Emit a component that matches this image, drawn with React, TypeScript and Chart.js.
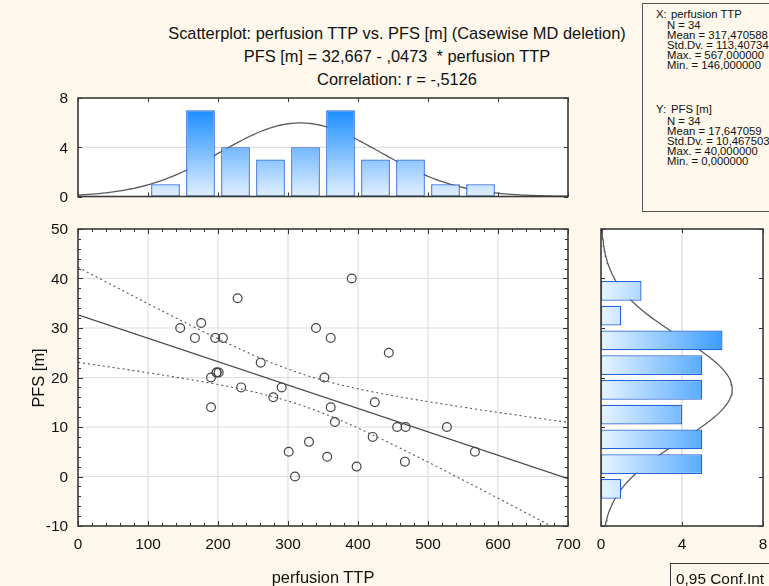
import React, { useEffect, useRef } from 'react';
import { Chart, registerables } from 'chart.js';
Chart.register(...registerables);

// ---------- data ----------
const perfusionTTP = [146, 176, 167, 196, 207, 228, 391, 340, 361, 261, 190, 198, 198, 201, 233, 291, 279, 352, 361, 190, 444, 424, 301, 330, 310, 367, 456, 468, 527, 421, 567, 356, 398, 467];
const pfsMonths = [30, 31, 28, 28, 28, 36, 40, 30, 28, 23, 20, 21, 21, 21, 18, 18, 16, 20, 14, 14, 25, 15, 5, 7, 0, 11, 10, 10, 10, 8, 5, 4, 2, 3];

const xBinCenters = [125, 175, 225, 275, 325, 375, 425, 475, 525, 575];
const xBinCounts = [1, 7, 4, 3, 4, 7, 3, 3, 1, 1];
const yBinCenters = [37.5, 32.5, 27.5, 22.5, 17.5, 12.5, 7.5, 2.5, -2.5];
const yBinCounts = [2, 1, 6, 5, 5, 4, 5, 5, 1];

const scatterXTicks = [0, 100, 200, 300, 400, 500, 600, 700];
const scatterYTicks = [-10, 0, 10, 20, 30, 40, 50];
const countTicks = [0, 4, 8];

const N = 34;
const meanX = 317.470588;
const sdX = 113.40734;
const meanY = 17.647059;
const sdY = 10.467503;
const intercept = 32.667;
const slope = -0.0473;
const r = -0.5126;
const tCrit = 2.0369; // t(0.975, 32)
const binWidthX = 50;
const binWidthY = 5;

const titleLines = [
  'Scatterplot: perfusion TTP vs. PFS [m] (Casewise MD deletion)',
  'PFS [m] = 32,667 - ,0473  * perfusion TTP',
  'Correlation: r = -,5126',
];
const statsX = ['N = 34', 'Mean = 317,470588', 'Std.Dv. = 113,40734', 'Max. = 567,000000', 'Min. = 146,000000'];
const statsY = ['N = 34', 'Mean = 17,647059', 'Std.Dv. = 10,467503', 'Max. = 40,000000', 'Min. = 0,000000'];

// ---------- derived curves ----------
const normal = (v: number, m: number, sd: number, w: number) =>
  (N * w) / (sd * Math.sqrt(2 * Math.PI)) * Math.exp(-0.5 * ((v - m) / sd) ** 2);

const sRes = sdY * Math.sqrt(((1 - r * r) * (N - 1)) / (N - 2));
const sxx = (N - 1) * sdX * sdX;
const ciHalf = (x: number) => tCrit * sRes * Math.sqrt(1 / N + ((x - meanX) ** 2) / sxx);

const xGrid: number[] = [];
for (let x = 0; x <= 700; x += 5) xGrid.push(x);
const yGrid: number[] = [];
for (let y = -10; y <= 50; y += 0.5) yGrid.push(y);

const FONT = "'Liberation Sans', Arial, sans-serif";
const BG = '#fdf8eb';
const TICK_FONT = `15.4px ${FONT}`;

// ---------- plugin: plot background, grid, frame, ticks, labels ----------
const decor = {
  id: 'decor',
  beforeDraw(chart: any) {
    const { ctx, chartArea: a } = chart;
    ctx.save();
    ctx.fillStyle = '#ffffff';
    ctx.fillRect(a.left, a.top, a.width, a.height);
    ctx.restore();
  },
  beforeDatasetsDraw(chart: any, _args: any, o: any) {
    const { ctx, chartArea: a } = chart;
    const xs = chart.scales.x;
    const ys = chart.scales.y;
    ctx.save();
    ctx.strokeStyle = o.gridColor || '#dedede';
    ctx.lineWidth = 1.2;
    (o.gridX || []).forEach((v: number) => {
      const p = xs.getPixelForValue(v);
      ctx.beginPath(); ctx.moveTo(p, a.top); ctx.lineTo(p, a.bottom); ctx.stroke();
    });
    (o.gridY || []).forEach((v: number) => {
      const p = ys.getPixelForValue(v);
      ctx.beginPath(); ctx.moveTo(a.left, p); ctx.lineTo(a.right, p); ctx.stroke();
    });
    ctx.restore();
  },
  afterDraw(chart: any, _args: any, o: any) {
    const { ctx, chartArea: a } = chart;
    const xs = chart.scales.x;
    const ys = chart.scales.y;
    ctx.save();
    ctx.strokeStyle = '#333';
    ctx.lineWidth = 1;
    const seg = (x1: number, y1: number, x2: number, y2: number) => {
      ctx.beginPath(); ctx.moveTo(x1, y1); ctx.lineTo(x2, y2); ctx.stroke();
    };
    (o.xTicks || []).forEach((t: any) => {
      for (let v = xs.min; v <= xs.max + 1e-9; v += t.step) {
        const p = Math.round(xs.getPixelForValue(v)) + 0.5;
        seg(p, a.top, p, a.top + t.len);
        seg(p, a.bottom, p, a.bottom - t.len);
      }
    });
    (o.yTicks || []).forEach((t: any) => {
      for (let v = ys.min; v <= ys.max + 1e-9; v += t.step) {
        const p = Math.round(ys.getPixelForValue(v)) + 0.5;
        seg(a.left, p, a.left + t.len, p);
        seg(a.right, p, a.right - t.len, p);
      }
    });
    ctx.strokeStyle = '#3a3a3a';
    ctx.lineWidth = 1.6;
    ctx.strokeRect(a.left, a.top, a.width, a.height);

    ctx.fillStyle = '#111';
    ctx.font = TICK_FONT;
    ctx.textBaseline = 'middle';
    if (o.labelsX) {
      ctx.textAlign = 'center';
      o.labelsX.forEach((v: number) => ctx.fillText(String(v), xs.getPixelForValue(v), a.bottom + 19));
    }
    if (o.labelsY) {
      ctx.textAlign = 'right';
      o.labelsY.forEach((v: number) => ctx.fillText(String(v), a.left - 10, ys.getPixelForValue(v) + 1));
    }
    ctx.restore();
  },
};

const vGradient = (c: any, from: string, to: string) => {
  const a = c.chart.chartArea;
  if (!a) return to;
  const g = c.chart.ctx.createLinearGradient(0, a.bottom, 0, a.top);
  g.addColorStop(0, from);
  g.addColorStop(1, to);
  return g;
};
const hGradient = (c: any, from: string, to: string) => {
  const a = c.chart.chartArea;
  if (!a) return to;
  const g = c.chart.ctx.createLinearGradient(a.left, 0, a.right, 0);
  g.addColorStop(0, from);
  g.addColorStop(1, to);
  return g;
};

const hiddenLinear = (min: number, max: number): any => ({
  type: 'linear', min, max, display: false, offset: false,
  ticks: { display: false }, grid: { display: false, offset: false },
});

// ---------- configs ----------
const scatterConfig = (): any => ({
  type: 'scatter',
  data: {
    datasets: [
      {
        data: xGrid.map((x) => ({ x, y: intercept + slope * x + ciHalf(x) })),
        showLine: true, pointRadius: 0, borderColor: '#555', borderWidth: 1.1, borderDash: [2, 3],
      },
      {
        data: xGrid.map((x) => ({ x, y: intercept + slope * x - ciHalf(x) })),
        showLine: true, pointRadius: 0, borderColor: '#555', borderWidth: 1.1, borderDash: [2, 3],
      },
      {
        data: [0, 700].map((x) => ({ x, y: intercept + slope * x })),
        showLine: true, pointRadius: 0, borderColor: '#4a4a4a', borderWidth: 1.3,
      },
      {
        data: perfusionTTP.map((x, i) => ({ x, y: pfsMonths[i] })),
        pointRadius: 4.4, pointBorderColor: '#444', pointBorderWidth: 1.2,
        pointBackgroundColor: 'rgba(255,255,255,0)',
      },
    ],
  },
  options: {
    animation: false, responsive: false,
    layout: { autoPadding: false, padding: { top: 29, right: 22, left: 78, bottom: 60 } },
    plugins: {
      legend: { display: false }, tooltip: { enabled: false },
      decor: {
        gridX: [100, 200, 300, 400, 500, 600], gridY: [0, 10, 20, 30, 40],
        xTicks: [{ step: 20, len: 3 }, { step: 100, len: 5 }], yTicks: [{ step: 2, len: 3 }, { step: 10, len: 5 }],
        labelsX: scatterXTicks, labelsY: scatterYTicks,
      },
    },
    scales: { x: hiddenLinear(0, 700), y: hiddenLinear(-10, 50) },
  },
  plugins: [decor],
});

const topHistConfig = (): any => ({
  type: 'bar',
  data: {
    datasets: [
      {
        type: 'bar',
        data: xBinCenters.map((x, i) => ({ x, y: xBinCounts[i] })),
        backgroundColor: (c: any) => vGradient(c, '#e2f0ff', '#0080ff'),
        borderColor: '#2563d8', borderWidth: 1.3, borderSkipped: false,
        barPercentage: 0.82, categoryPercentage: 1,
      },
      {
        type: 'line',
        data: xGrid.map((x) => ({ x, y: normal(x, meanX, sdX, binWidthX) })),
        borderColor: '#5a5a5a', borderWidth: 1.3, pointRadius: 0,
      },
    ],
  },
  options: {
    animation: false, responsive: false,
    layout: { autoPadding: false, padding: { top: 18, right: 22, left: 78, bottom: 13.5 } },
    plugins: {
      legend: { display: false }, tooltip: { enabled: false },
      decor: {
        gridY: [4], gridColor: '#d6d6d6',
        xTicks: [{ step: 100, len: 4 }], yTicks: [{ step: 4, len: 4 }],
        labelsY: countTicks,
      },
    },
    scales: { x: hiddenLinear(0, 700), y: hiddenLinear(0, 8) },
  },
  plugins: [decor],
});

const rightHistConfig = (): any => ({
  type: 'bar',
  data: {
    datasets: [
      {
        type: 'bar',
        data: yBinCenters.map((y, i) => ({ x: yBinCounts[i], y })),
        backgroundColor: (c: any) => hGradient(c, '#e8f4ff', '#0080ff'),
        borderColor: '#2563d8', borderWidth: 1.3, borderSkipped: false,
        barPercentage: 0.8, categoryPercentage: 1,
      },
      {
        type: 'line',
        indexAxis: 'y',
        data: yGrid.map((y) => ({ x: normal(y, meanY, sdY, binWidthY), y })),
        borderColor: '#5a5a5a', borderWidth: 1.3, pointRadius: 0,
      },
    ],
  },
  options: {
    indexAxis: 'y',
    animation: false, responsive: false,
    layout: { autoPadding: false, padding: { top: 29, right: 6, left: 11, bottom: 60 } },
    plugins: {
      legend: { display: false }, tooltip: { enabled: false },
      decor: {
        gridX: [4], gridColor: '#d6d6d6',
        xTicks: [{ step: 4, len: 4 }], yTicks: [{ step: 10, len: 4 }],
        labelsX: countTicks,
      },
    },
    scales: { x: hiddenLinear(0, 8), y: hiddenLinear(-10, 50) },
  },
  plugins: [decor],
});

// ---------- components ----------
function ChartCanvas(props: { left: number; top: number; width: number; height: number; make: () => any }) {
  const ref = useRef<HTMLCanvasElement | null>(null);
  useEffect(() => {
    if (!ref.current) return;
    const chart = new Chart(ref.current, props.make());
    return () => chart.destroy();
  }, []);
  return (
    <canvas
      ref={ref}
      width={props.width}
      height={props.height}
      style={{ position: 'absolute', left: props.left, top: props.top, width: props.width, height: props.height }}
    />
  );
}

const abs = (left: number, top: number, extra: any = {}): any => ({ position: 'absolute', left, top, whiteSpace: 'pre', ...extra });
const statFont = { fontSize: 10, lineHeight: '10px', transform: 'scaleX(1.13)', transformOrigin: '0 0' };

export default function App() {
  return (
    <div style={{ position: 'fixed', left: 0, top: 0, width: 769, height: 586, background: BG, overflow: 'hidden', fontFamily: FONT, color: '#111' }}>
      {titleLines.map((t, i) => (
        <div key={i} style={abs(0, 23 + 23 * i, { width: 794, textAlign: 'center', fontSize: 16.4, lineHeight: '20px' })}>{t}</div>
      ))}

      <div style={abs(642, 3, { width: 150, height: 209, border: '1px solid #555', boxSizing: 'border-box' })} />
      <div style={abs(656, 10, statFont)}>X:</div>
      <div style={abs(671, 10, statFont)}>perfusion TTP</div>
      {statsX.map((t, i) => (
        <div key={'x' + i} style={abs(667, 20.5 + 10.2 * i, statFont)}>{t}</div>
      ))}
      <div style={abs(656, 105, statFont)}>Y:</div>
      <div style={abs(671, 105, statFont)}>PFS [m]</div>
      {statsY.map((t, i) => (
        <div key={'y' + i} style={abs(667, 116.5 + 10.2 * i, statFont)}>{t}</div>
      ))}

      <ChartCanvas left={0} top={80} width={590} height={130} make={topHistConfig} />
      <ChartCanvas left={0} top={200} width={590} height={386} make={scatterConfig} />
      <ChartCanvas left={590} top={200} width={179} height={386} make={rightHistConfig} />

      <div style={abs(0, 568, { width: 646, textAlign: 'center', fontSize: 16.4, lineHeight: '18px' })}>perfusion TTP</div>
      <div style={abs(38 - 50, 378 - 9, { width: 100, textAlign: 'center', fontSize: 16.4, lineHeight: '18px', transform: 'rotate(-90deg)' })}>PFS [m]</div>

      <div style={abs(670, 563, { width: 120, height: 40, border: '1px solid #333', boxSizing: 'border-box', background: BG })} />
      <div style={abs(676, 570, { fontSize: 15.4, lineHeight: '18px' })}>0,95 Conf.Int</div>
    </div>
  );
}
